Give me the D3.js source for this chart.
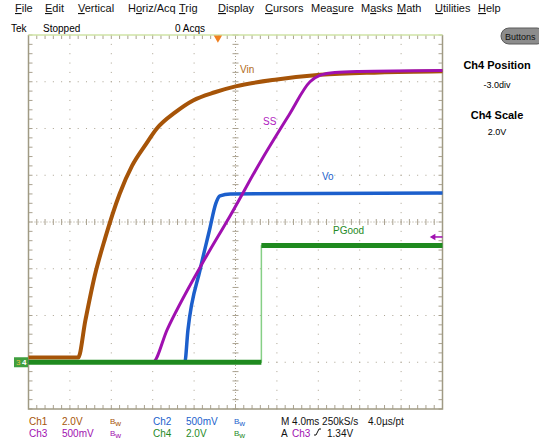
<!DOCTYPE html>
<html>
<head>
<meta charset="utf-8">
<script src="https://cdn.jsdelivr.net/npm/d3@7"></script>
<style>
body { margin: 0; background: #fff; }
svg text { font-family: "Liberation Sans", Arial, sans-serif; }
</style>
</head>
<body>
<svg id="scope" width="539" height="441"></svg>
<script>
// time in ms, volts per channel
var vinT = [0, 4.8, 5.5, 6.4, 7.4, 8.8, 10.0, 11.3, 12.4, 14.2, 15.9, 18.0, 20.0, 24.0, 28.2, 33.9, 40];
var vinV = [0.2, 0.2, 1.8, 3.7, 5.3, 7.2, 8.4, 9.3, 10.0, 10.7, 11.2, 11.55, 11.8, 12.1, 12.3, 12.4, 12.45];

var ssT = [0, 12.0, 13.4, 16.6, 19.5, 22.6, 25.2, 27.2, 28.2, 29.6, 31.9, 40];
var ssV = [0, 0, 0.35, 1.02, 1.57, 2.18, 2.65, 3.0, 3.07, 3.1, 3.11, 3.12];

var voT = [0, 15.1, 15.4, 16.6, 17.5, 18.1, 18.5, 19.5, 40];
var voV = [0, 0, 0.34, 1.0, 1.42, 1.7, 1.78, 1.80, 1.81];

var pgT = [0, 22.5, 22.5, 40];
var pgV = [0, 0, 5.0, 5.0];

var menuItems = ["File", "Edit", "Vertical", "Horiz/Acq", "Trig", "Display", "Cursors", "Measure", "Masks", "Math", "Utilities", "Help"];
var menuKey = [0, 0, 0, 1, 0, 0, 0, 3, 1, 0, 0, 0];
var menuX = [15, 45, 78, 128, 179, 218, 265, 311, 361, 397, 435, 478];

var trigTime = 18.3, trigLevel = 1.34;

var svg = d3.select("#scope");
var plotL = 28.5, plotR = 442.5, plotT = 35, plotB = 409;

var x = d3.scaleLinear().domain([0, 40]).range([plotL, plotR]);
var yDiv = d3.scaleLinear().domain([-4, 4]).range([plotB, plotT]);
function chScale(vPerDiv, pos) {
    return d3.scaleLinear().domain([(-4 - pos) * vPerDiv, (4 - pos) * vPerDiv]).range([plotB, plotT]);
}
var y1 = chScale(2.0, -3), y2 = chScale(0.5, -3), y3 = chScale(0.5, -3), y4 = chScale(2.0, -3);

var gridCol = "#aaa290";

// menu bar
menuItems.forEach(function(m, i) {
    var t = svg.append("text").attr("x", menuX[i]).attr("y", 12)
        .attr("font-size", 11).attr("fill", "#111");
    var k = menuKey[i];
    if (k > 0) t.append("tspan").text(m.slice(0, k));
    t.append("tspan").attr("text-decoration", "underline").text(m[k]);
    t.append("tspan").text(m.slice(k + 1));
});

svg.append("text").attr("x", 11).attr("y", 32).attr("font-size", 10).text("Tek");
svg.append("text").attr("x", 43).attr("y", 32).attr("font-size", 10).text("Stopped");
svg.append("text").attr("x", 175).attr("y", 32).attr("font-size", 10).text("0 Acqs");

// grid
var g = svg.append("g");
var majorX = d3.range(0, 41, 4), minorX = d3.range(0, 40.01, 0.8);
var majorY = d3.range(-4, 5, 1), minorY = d3.range(-4, 4.01, 0.2);

majorX.filter(function(t) { return t > 0 && t < 40 && t != 20; }).forEach(function(t) {
    g.selectAll(null).data(minorY).enter().append("rect")
        .attr("x", x(t) - 0.5).attr("y", function(d) { return yDiv(d) - 0.5; })
        .attr("width", 1).attr("height", 1).attr("fill", gridCol);
});
majorY.filter(function(d) { return d > -4 && d < 4 && d != 0; }).forEach(function(d) {
    g.selectAll(null).data(minorX).enter().append("rect")
        .attr("x", function(t) { return x(t) - 0.5; }).attr("y", yDiv(d) - 0.5)
        .attr("width", 1).attr("height", 1).attr("fill", gridCol);
});

// center cross
g.append("line").attr("x1", plotL).attr("x2", plotR).attr("y1", yDiv(0)).attr("y2", yDiv(0))
    .attr("stroke", gridCol).attr("stroke-dasharray", "1,2");
g.append("line").attr("x1", x(20)).attr("x2", x(20)).attr("y1", plotT).attr("y2", plotB)
    .attr("stroke", gridCol).attr("stroke-dasharray", "1,2");
g.selectAll(null).data(minorX).enter().append("line")
    .attr("x1", function(t) { return x(t); }).attr("x2", function(t) { return x(t); })
    .attr("y1", yDiv(0) - 3).attr("y2", yDiv(0) + 3).attr("stroke", gridCol);
g.selectAll(null).data(minorY).enter().append("line")
    .attr("y1", function(d) { return yDiv(d); }).attr("y2", function(d) { return yDiv(d); })
    .attr("x1", x(20) - 3).attr("x2", x(20) + 3).attr("stroke", gridCol);

// border ticks
g.selectAll(null).data(minorX).enter().append("line")
    .attr("x1", function(t) { return x(t); }).attr("x2", function(t) { return x(t); })
    .attr("y1", plotT).attr("y2", plotT + 4).attr("stroke", gridCol);
g.selectAll(null).data(minorX).enter().append("line")
    .attr("x1", function(t) { return x(t); }).attr("x2", function(t) { return x(t); })
    .attr("y1", plotB).attr("y2", plotB - 4).attr("stroke", gridCol);
g.selectAll(null).data(minorY).enter().append("line")
    .attr("y1", function(d) { return yDiv(d); }).attr("y2", function(d) { return yDiv(d); })
    .attr("x1", plotL).attr("x2", plotL + 4).attr("stroke", gridCol);
g.selectAll(null).data(minorY).enter().append("line")
    .attr("y1", function(d) { return yDiv(d); }).attr("y2", function(d) { return yDiv(d); })
    .attr("x1", plotR).attr("x2", plotR - 4).attr("stroke", gridCol);

g.append("path").attr("d", "M" + plotL + "," + plotT + "V" + plotB + "H" + plotR + "V" + plotT)
    .attr("fill", "none").attr("stroke", "#a09a84").attr("stroke-width", 1.5);
g.append("line").attr("x1", plotL).attr("x2", plotR).attr("y1", plotT).attr("y2", plotT)
    .attr("stroke", "#cfe3a6").attr("stroke-width", 1.5);

// traces
function trace(ts, vs, ys, col, w, curve) {
    var pts = ts.map(function(t, i) { return [t, vs[i]]; });
    svg.append("path").datum(pts)
        .attr("d", d3.line().curve(curve || d3.curveLinear)
            .x(function(d) { return x(d[0]); }).y(function(d) { return ys(d[1]); }))
        .attr("fill", "none").attr("stroke", col).attr("stroke-width", w)
        .attr("stroke-linejoin", "round");
}
trace(vinT, vinV, y1, "#a65408", 4, d3.curveMonotoneX);
trace(voT, voV, y2, "#1c5fcc", 3.5, d3.curveMonotoneX);
trace(ssT, ssV, y3, "#a010b0", 3, d3.curveMonotoneX);

// PGood: thin light edge, thick flat parts
trace(pgT, pgV, y4, "#86cf86", 1.5);
var pgPts = pgT.map(function(t, i) { return [t, pgV[i]]; });
d3.pairs(pgPts).filter(function(p) { return p[0][1] == p[1][1]; }).forEach(function(p) {
    svg.append("line").attr("x1", x(p[0][0])).attr("x2", x(p[1][0]))
        .attr("y1", y4(p[0][1])).attr("y2", y4(p[1][1]))
        .attr("stroke", "#1f8a1f").attr("stroke-width", 5);
});

// trace labels
svg.append("text").attr("x", 240).attr("y", 73).attr("font-size", 10).attr("fill", "#b06a20").text("Vin");
svg.append("text").attr("x", 263).attr("y", 125).attr("font-size", 10).attr("fill", "#b020c0").text("SS");
svg.append("text").attr("x", 322).attr("y", 180).attr("font-size", 10).attr("fill", "#1c5fcc").text("Vo");
svg.append("text").attr("x", 333).attr("y", 234).attr("font-size", 10).attr("fill", "#1f8a1f").text("PGood");

// trigger position and level markers
svg.append("path").attr("d", d3.symbol(d3.symbolTriangle, 30)())
    .attr("transform", "translate(" + x(trigTime) + "," + (plotT + 3) + ") rotate(180)")
    .attr("fill", "#f08020");
svg.append("line").attr("x1", plotR - 9).attr("x2", plotR).attr("y1", y3(trigLevel)).attr("y2", y3(trigLevel))
    .attr("stroke", "#a010b0").attr("stroke-width", 1.5);
svg.append("path").attr("d", d3.symbol(d3.symbolTriangle, 18)())
    .attr("transform", "translate(" + (plotR - 9) + "," + y3(trigLevel) + ") rotate(-90)")
    .attr("fill", "#a010b0");

// ground marker
svg.append("rect").attr("x", 14).attr("y", y4(0) - 5).attr("width", 14).attr("height", 10)
    .attr("fill", "#3f9f3f");
svg.append("text").attr("x", 16).attr("y", y4(0) + 3).attr("font-size", 8).attr("fill", "#e8c040").text("3");
svg.append("text").attr("x", 22).attr("y", y4(0) + 3).attr("font-size", 8).attr("font-weight", "bold")
    .attr("fill", "#fff").text("4");

// right panel
svg.append("rect").attr("x", 501).attr("y", 28).attr("width", 44).attr("height", 16).attr("rx", 8)
    .attr("fill", "#8c8c8c").attr("stroke", "#5a5a5a");
svg.append("text").attr("x", 505).attr("y", 40).attr("font-size", 9).attr("fill", "#111").text("Buttons");
svg.append("text").attr("x", 497).attr("y", 69).attr("font-size", 11).attr("font-weight", "bold")
    .attr("text-anchor", "middle").text("Ch4 Position");
svg.append("text").attr("x", 497).attr("y", 88).attr("font-size", 9)
    .attr("text-anchor", "middle").text("-3.0div");
svg.append("text").attr("x", 497).attr("y", 119).attr("font-size", 11).attr("font-weight", "bold")
    .attr("text-anchor", "middle").text("Ch4 Scale");
svg.append("text").attr("x", 497).attr("y", 135).attr("font-size", 9)
    .attr("text-anchor", "middle").text("2.0V");

// channel readouts
var readout = [
    [29, 425, "Ch1", "#a65408"], [62, 425, "2.0V", "#a65408"],
    [153, 425, "Ch2", "#1c5fcc"], [186, 425, "500mV", "#1c5fcc"],
    [29, 437, "Ch3", "#a010b0"], [62, 437, "500mV", "#a010b0"],
    [153, 437, "Ch4", "#1f8a1f"], [186, 437, "2.0V", "#1f8a1f"],
    [281, 425, "M 4.0ms 250kS/s", "#111"], [368, 425, "4.0\u00b5s/pt", "#111"],
    [281, 437, "A", "#111"], [292, 437, "Ch3", "#a010b0"], [327, 437, "1.34V", "#111"]
];
readout.forEach(function(r) {
    svg.append("text").attr("x", r[0]).attr("y", r[1]).attr("font-size", 10).attr("fill", r[3]).text(r[2]);
});
[[110, 424, "#a65408"], [234, 424, "#1c5fcc"], [110, 436, "#a010b0"], [234, 436, "#1f8a1f"]].forEach(function(b) {
    var t = svg.append("text").attr("x", b[0]).attr("y", b[1]).attr("font-size", 8).attr("fill", b[2]);
    t.append("tspan").text("B");
    t.append("tspan").attr("dy", 2).text("w");
});
svg.append("path").attr("d", "M314,435 L316,435 L319,429 L321,429").attr("fill", "none").attr("stroke", "#111");
</script>
</body>
</html>
